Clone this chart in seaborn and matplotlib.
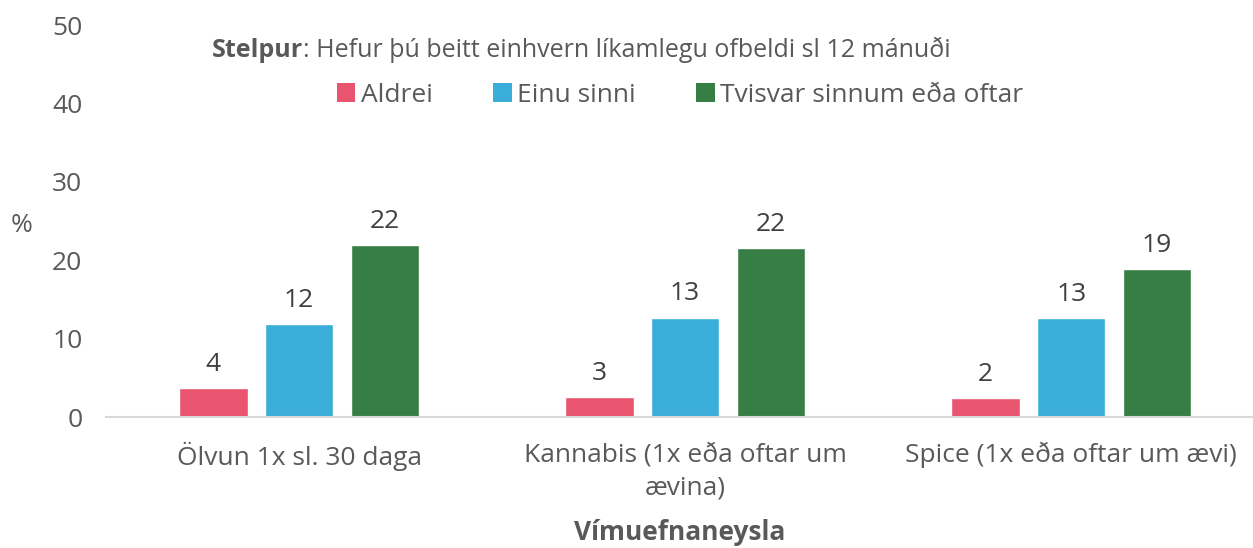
import matplotlib
matplotlib.use("Agg")
import matplotlib.pyplot as plt
import seaborn as sns
import pandas as pd
from matplotlib.patches import Patch

categories = ["Ölvun 1x sl. 30 daga", "Kannabis (1x eða oftar um\nævina)", "Spice (1x eða oftar um ævi)"]
series_names = ["Aldrei", "Einu sinni", "Tvisvar sinnum eða oftar"]
aldrei = [3.7, 2.6, 2.4]
einu_sinni = [11.9, 12.7, 12.6]
tvisvar = [22.0, 21.6, 18.9]
y_ticks = [0, 10, 20, 30, 40, 50]
colors = ["#E9546F", "#3AADD9", "#377E45"]

rows = []
for s, vals in zip(series_names, [aldrei, einu_sinni, tvisvar]):
    for c, v in zip(categories, vals):
        rows.append({"cat": c, "series": s, "val": v})
df = pd.DataFrame(rows)

sns.set_theme(style="white")
FONT = "Open Sans"
plt.rcParams["font.family"] = [FONT, "DejaVu Sans"]
TXT = "#595959"
FS = 19

fig = plt.figure(figsize=(12.53, 5.48), dpi=100)
ax = fig.add_axes([0.0846, 0.239, 1 - 0.0846, 0.954 - 0.239])
sns.barplot(data=df, x="cat", y="val", hue="series", order=categories,
            hue_order=series_names, palette=colors, width=0.667, gap=0.2,
            ax=ax, legend=False, saturation=1)

for cont in ax.containers:
    ax.bar_label(cont, labels=[f"{round(v):d}" for v in cont.datavalues],
                 padding=8, fontsize=FS, color="#404040")

ax.set_ylim(0, 50)
ax.set_xlim(-0.5, 2.471)
ax.set_yticks(y_ticks)
ax.set_yticklabels([str(t) for t in y_ticks], fontsize=FS, color=TXT)
ax.tick_params(axis="y", length=0, pad=17)
ax.tick_params(axis="x", length=0, pad=18, labelsize=FS, labelcolor=TXT)
for lbl in ax.get_xticklabels():
    lbl.set_linespacing(1.45)
for sp in ["top", "right", "left"]:
    ax.spines[sp].set_visible(False)
ax.spines["bottom"].set_color("#D9D9D9")
ax.spines["bottom"].set_linewidth(1.5)
ax.set_ylabel("")
ax.set_xlabel("")
fig.text(680 / 1253, 1 - 532 / 548, "Vímuefnaneysla", fontsize=FS, color=TXT,
         fontweight="bold", ha="center", va="center")
fig.text(22 / 1253, 1 - 225 / 548, "%", fontsize=FS, color=TXT, ha="center", va="center")

t1 = fig.text(212 / 1253, 1 - 50 / 548, "Stelpur", fontsize=18, color=TXT,
              fontweight="bold", ha="left", va="center")
ax.annotate(": Hefur þú beitt einhvern líkamlegu ofbeldi sl 12 mánuði",
            xy=(1, 0), xycoords=t1, va="bottom", ha="left", fontsize=18, color=TXT)

handles = [Patch(facecolor=c, edgecolor="none") for c in colors]
fig.legend(handles, series_names, loc="center", bbox_to_anchor=(680 / 1253, 1 - 95 / 548),
           ncol=3, frameon=False, fontsize=FS, handlelength=0.7, handleheight=0.7,
           handletextpad=0.2, columnspacing=2.3, labelcolor=TXT)

fig.savefig("out.png", dpi=100)
